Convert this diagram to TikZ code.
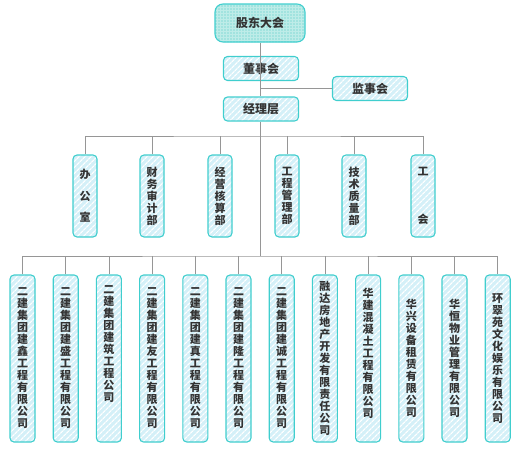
\documentclass[tikz,border=0pt]{standalone}
\usepackage{fontspec}
\newfontfamily\cjk{Noto Sans CJK SC}
\usetikzlibrary{patterns,patterns.meta}
\definecolor{bordc}{RGB}{64,206,206}
\definecolor{boxfill}{RGB}{212,240,248}
\definecolor{topfill}{RGB}{190,236,232}
\definecolor{dotc}{RGB}{70,200,196}
\definecolor{linec}{RGB}{150,150,150}
\definecolor{txtc}{RGB}{51,51,51}
\tikzset{
  box/.style={draw=bordc, line width=1.1pt, rounded corners=4pt,
    preaction={fill=boxfill},
    pattern={Lines[angle=45,distance=4pt,line width=1.3pt]}, pattern color=white,
    text=txtc, font=\cjk\bfseries\fontsize{11}{12}\selectfont, align=center, inner sep=0pt},
  topbox/.style={draw=bordc, line width=1.1pt, rounded corners=8pt,
    preaction={fill=topfill},
    pattern={Dots[distance=3pt,radius=0.7pt]}, pattern color=dotc,
    text=txtc, font=\cjk\bfseries\fontsize{12}{14}\selectfont, inner sep=0pt,
    minimum width=90pt, minimum height=38pt},
  hbox/.style={box, font=\cjk\bfseries\fontsize{12}{14}\selectfont,
    minimum width=75pt, minimum height=24pt},
  dept/.style={box, minimum width=24pt, minimum height=82pt},
  comp/.style={box, minimum width=25pt, minimum height=167pt},
  conn/.style={draw=linec, line width=0.8pt}
}
\begin{document}
\begin{tikzpicture}[x=1pt,y=-1pt]
\useasboundingbox (0,0) rectangle (516,450);
% top
\node[topbox] (gd) at (260,23) {股东大会};
\node[hbox] (ds) at (261,68.5) {董事会};
\node[hbox] (js) at (370,88.5) {监事会};
\node[hbox] (jl) at (261,109) {经理层};
\coordinate (b2) at (260,136);
\coordinate (b3) at (260,256);
% departments
\node[dept] (d1) at (85,196)  {办\\[9.5pt]公\\[9.5pt]室};
\node[dept] (d2) at (152,196) {财\\务\\审\\计\\部};
\node[dept] (d3) at (220,196) {经\\营\\核\\算\\部};
\node[dept] (d4) at (287,196) {工\\程\\管\\理\\部};
\node[dept] (d5) at (354,196) {技\\术\\质\\量\\部};
\node[dept] (d6) at (423,196) {工\\[36pt]会};
% companies
\node[comp] (c1)  at (22.5,358.5)  {二\\建\\集\\团\\建\\鑫\\工\\程\\有\\限\\公\\司};
\node[comp] (c2)  at (65.7,358.5)  {二\\建\\集\\团\\建\\盛\\工\\程\\有\\限\\公\\司};
\node[comp] (c3)  at (108.9,358.5) {二\\建\\集\\团\\建\\筑\\工\\程\\公\\司\\[17pt]\mbox{}};
\node[comp] (c4)  at (152.1,358.5) {二\\建\\集\\团\\建\\友\\工\\程\\有\\限\\公\\司};
\node[comp] (c5)  at (195.3,358.5) {二\\建\\集\\团\\建\\真\\工\\程\\有\\限\\公\\司};
\node[comp] (c6)  at (238.5,358.5) {二\\建\\集\\团\\建\\隆\\工\\程\\有\\限\\公\\司};
\node[comp] (c7)  at (281.7,358.5) {二\\建\\集\\团\\建\\诚\\工\\程\\有\\限\\公\\司};
\node[comp] (c8)  at (324.9,358.5) {融\\达\\房\\地\\产\\开\\发\\有\\限\\责\\任\\公\\司};
\node[comp] (c9)  at (368.1,358.5) {华\\建\\混\\凝\\土\\工\\程\\有\\限\\公\\司\\[0pt]\mbox{}};
\node[comp] (c10) at (411.3,358.5) {华\\兴\\设\\备\\租\\赁\\有\\限\\公\\司};
\node[comp] (c11) at (454.5,358.5) {华\\恒\\物\\业\\管\\理\\有\\限\\公\\司};
\node[comp] (c12) at (497.7,358.5) {环\\翠\\苑\\文\\化\\娱\\乐\\有\\限\\公\\司};
% connectors
\draw[conn] (gd.south -| b2) -- (ds.south -| b2);
\draw[conn] (ds.south -| b2) -- (jl.north -| b2);
\draw[conn] (js.west) -- (js.west -| b2);
\draw[conn] (jl.south -| b2) -- (b3);
\draw[conn] (d1.north) |- (b2) -| (d6.north);
\foreach \i in {2,3,4,5} \draw[conn] (d\i.north) -- (d\i.north |- b2);
\draw[conn] (c1.north) |- (b3) -| (c12.north);
\foreach \i in {2,...,11} \draw[conn] (c\i.north) -- (c\i.north |- b3);
\end{tikzpicture}
\end{document}
